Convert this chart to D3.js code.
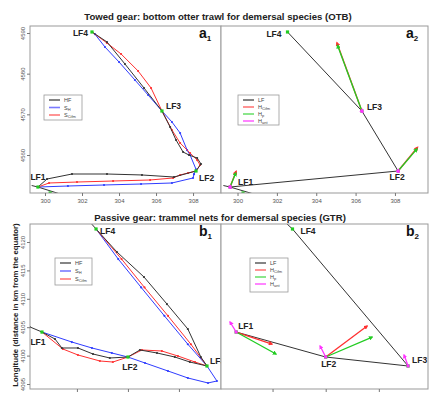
<!DOCTYPE html>
<html>
<head>
<meta charset="utf-8">
<script src="https://cdn.jsdelivr.net/npm/d3@7"></script>
<style>
  body { margin: 0; background: #fff; }
  text { font-family: "Liberation Sans", Arial, sans-serif; }
</style>
</head>
<body>
<svg id="chart" width="430" height="394"></svg>
<script>
// ---- data (km) ----
const lfNames = ['LF1', 'LF2', 'LF3', 'LF4'];

// towed gear (OTB)
const towedLF = [[299.62, 4552.13], [308.16, 4556.07], [306.32, 4570.82], [302.54, 4590.25]];
const towedLF0 = [[300.28, 4550.66]];
const towedTail = [[299.28, 4552.5], [299.62, 4552.13], [300.9, 4550.3]];
const towedHF = [[299.62, 4552.13], [300.11, 4554.10], [301.46, 4555.33], [303.35, 4555.33], [305.24, 4555.09],
  [306.97, 4554.59], [308.16, 4556.07], [308.43, 4557.79], [308.22, 4559.26], [307.78, 4560.00], [307.46, 4560.74],
  [307.08, 4563.69], [306.76, 4566.89], [306.32, 4570.82], [305.35, 4576.48], [304.32, 4582.38], [303.35, 4587.79],
  [302.54, 4590.25]];
const towedSH = [[299.62, 4552.13], [301.24, 4552.38], [303.19, 4552.63], [305.19, 4552.87], [306.86, 4553.12],
  [308.00, 4554.35], [308.05, 4555.3], [308.16, 4556.5], [307.84, 4560.0], [307.68, 4561.20], [307.30, 4565.41],
  [306.86, 4568.12], [306.32, 4570.82], [305.57, 4574.76], [304.86, 4578.44], [304.00, 4582.87], [303.24, 4586.56],
  [302.70, 4589.7]];
const towedSCifm = [[299.62, 4552.13], [300.22, 4553.12], [301.73, 4553.36], [303.68, 4553.61], [305.68, 4553.86],
  [306.92, 4554.35], [307.30, 4555.09], [307.73, 4555.58], [308.16, 4556.07], [308.38, 4557.54], [308.22, 4558.76],
  [307.84, 4560.49], [307.30, 4562.95], [306.86, 4566.15], [306.32, 4570.82], [305.73, 4576.48], [305.03, 4580.66],
  [304.11, 4584.84], [303.35, 4587.54], [302.54, 4590.25]];
// arrows: [fromX, fromY, toX, toY]
const towedHCifm = [[299.62, 4552.13, 299.93, 4556.0], [308.16, 4556.07, 309.15, 4561.9], [306.32, 4570.82, 305.05, 4587.6]];
const towedHp = [[299.62, 4552.13, 299.91, 4555.6], [308.16, 4556.07, 309.12, 4561.5], [306.32, 4570.82, 305.08, 4587.0]];
const towedHant = [[299.62, 4552.13, 299.64, 4552.5], [308.16, 4556.07, 308.18, 4556.4], [306.32, 4570.82, 306.34, 4571.2]];

// passive gear (GTR)
const passiveLF = [[300.63, 4104.15], [304.00, 4099.75], [307.10, 4098.17], [302.75, 4122.29]];
const passiveTrack = [[300.63, 4104.15], [304.00, 4099.75], [307.10, 4098.17], [302.75, 4122.29], [302.47, 4123.5]];
const passiveHF = [[300.16, 4105.04], [300.63, 4104.15], [301.14, 4102.92], [301.41, 4101.34], [302.04, 4101.34],
  [302.63, 4100.28], [303.29, 4099.58], [304.00, 4099.75], [304.47, 4100.99], [305.14, 4100.46], [305.84, 4099.75],
  [306.43, 4098.87], [307.10, 4098.17], [306.86, 4099.75], [306.35, 4104.68], [305.53, 4109.08], [304.63, 4113.84],
  [303.57, 4118.24], [302.75, 4122.29], [302.51, 4123.52]];
const passiveSH = [[300.63, 4104.15], [301.80, 4102.39], [302.59, 4101.34], [303.37, 4100.46], [304.00, 4099.75],
  [304.67, 4098.70], [305.57, 4097.29], [306.35, 4096.06], [307.14, 4095.18], [307.49, 4095.53], [307.10, 4098.17],
  [306.35, 4102.0], [305.43, 4107.0], [304.52, 4112.0], [303.62, 4117.0], [302.75, 4122.29]];
const passiveSCifm = [[300.63, 4104.15], [301.45, 4101.16], [302.04, 4100.11], [302.90, 4099.05], [303.41, 4098.87],
  [304.00, 4099.75], [304.55, 4100.99], [305.33, 4100.81], [305.96, 4099.93], [306.63, 4098.87], [307.10, 4098.17],
  [306.47, 4102.0], [305.57, 4107.0], [304.65, 4112.0], [303.75, 4117.0], [302.75, 4122.29]];
const passiveHCifm = [[300.63, 4104.15, 301.98, 4102.04], [304.00, 4099.75, 305.56, 4105.21]];
const passiveHp = [[300.63, 4104.15, 302.13, 4100.28], [304.00, 4099.75, 305.75, 4103.27]];
const passiveHant = [[300.63, 4104.15, 300.40, 4105.92], [304.00, 4099.75, 303.79, 4101.69], [307.10, 4098.17, 306.95, 4100.11]];

const xTicksA = [300, 302, 304, 306, 308];
const yTicksA = [4560, 4570, 4580, 4590];
const xTicksB = [302, 304, 306];
const yTicksB = [4095, 4100, 4105, 4110, 4115, 4120];

const titles = ['Towed gear: bottom otter trawl for demersal species (OTB)',
  'Passive gear: trammel nets for demersal species (GTR)'];
const yTitle = 'Longitude (distance in km from the equator)';

// ---- colours ----
const col = {black: '#333', blue: '#2f3cff', red: '#ff3030', green: '#22cc22', magenta: '#ff33ff'};
const legCol = {black: '#666', blue: '#7a7aff', red: '#ff7a7a', green: '#6ee06e', magenta: '#ff66ff'};

const svg = d3.select('#chart');
const defs = svg.append('defs');

['red', 'green', 'magenta'].forEach(c => {
  defs.append('marker')
    .attr('id', 'arrow-' + c)
    .attr('viewBox', '0 0 10 10')
    .attr('refX', 7).attr('refY', 5)
    .attr('markerWidth', 3.5).attr('markerHeight', 3.5)
    .attr('orient', 'auto')
    .append('path')
    .attr('d', 'M0,0 L10,5 L0,10 z')
    .attr('fill', col[c]);
});

function drawPanel(cfg) {
  const [x0, y0, x1, y1] = cfg.box;
  const x = d3.scaleLinear().domain(cfg.xd).range([x0, x1]);
  const y = d3.scaleLinear().domain(cfg.yd).range([y1, y0]);
  const g = svg.append('g');

  g.append('rect')
    .attr('x', x0).attr('y', y0).attr('width', x1 - x0).attr('height', y1 - y0)
    .attr('fill', '#fff');

  defs.append('clipPath').attr('id', 'clip-' + cfg.id)
    .append('rect')
    .attr('x', x0).attr('y', y0).attr('width', x1 - x0).attr('height', y1 - y0);

  const plot = g.append('g').attr('clip-path', `url(#clip-${cfg.id})`);
  const line = d3.line().x(d => x(d[0])).y(d => y(d[1]));

  (cfg.paths || []).forEach(p => {
    plot.append('path')
      .attr('d', line(p.data))
      .attr('fill', 'none')
      .attr('stroke', col[p.color])
      .attr('stroke-width', p.width || 1);
    if (p.dots) {
      plot.selectAll(null).data(p.data).enter().append('circle')
        .attr('cx', d => x(d[0])).attr('cy', d => y(d[1]))
        .attr('r', 1.1).attr('fill', col[p.color]);
    }
  });

  plot.selectAll(null).data(cfg.points).enter().append('rect')
    .attr('x', d => x(d[0]) - 1.6).attr('y', d => y(d[1]) - 1.6)
    .attr('width', 3.2).attr('height', 3.2)
    .attr('fill', col.green);

  (cfg.arrows || []).forEach(a => {
    plot.selectAll(null).data(a.data).enter().append('line')
      .attr('x1', d => x(d[0])).attr('y1', d => y(d[1]))
      .attr('x2', d => x(d[2])).attr('y2', d => y(d[3]))
      .attr('stroke', col[a.color])
      .attr('stroke-width', 1.3)
      .attr('marker-end', `url(#arrow-${a.color})`);
    if (a.color === 'magenta') {
      plot.selectAll(null).data(a.data).enter().append('rect')
        .attr('x', d => x(d[0]) - 1.5).attr('y', d => y(d[1]) - 1.5)
        .attr('width', 3).attr('height', 3)
        .attr('fill', col.magenta);
    }
  });

  // LF labels
  g.selectAll(null).data(cfg.lf).enter().append('text')
    .attr('x', (d, i) => x(d[0]) + cfg.lab[i][0])
    .attr('y', (d, i) => y(d[1]) + cfg.lab[i][1])
    .attr('text-anchor', (d, i) => cfg.lab[i][2])
    .attr('font-size', 8.5).attr('font-weight', 'bold').attr('fill', '#222')
    .text((d, i) => lfNames[i]);

  // frame
  g.append('rect')
    .attr('x', x0).attr('y', y0).attr('width', x1 - x0).attr('height', y1 - y0)
    .attr('fill', 'none').attr('stroke', '#999').attr('stroke-width', 1);

  // axes
  const xAxis = d3.axisBottom(x).tickValues(cfg.xt).tickSize(3).tickPadding(3)
    .tickFormat(cfg.xLabels ? d3.format('d') : '');
  const xa = g.append('g')
    .attr('transform', `translate(0,${y1})`)
    .call(xAxis);
  xa.select('.domain').remove();
  xa.selectAll('line').attr('stroke', '#777');
  xa.selectAll('text').attr('font-size', 6).attr('fill', '#555').attr('font-family', null);

  if (cfg.yt) {
    const ya = g.append('g')
      .attr('transform', `translate(${x0},0)`)
      .call(d3.axisLeft(y).tickValues(cfg.yt).tickSize(3).tickFormat(d3.format('d')));
    ya.select('.domain').remove();
    ya.selectAll('line').attr('stroke', '#777');
    ya.selectAll('text')
      .attr('font-size', 6).attr('fill', '#555').attr('font-family', null)
      .attr('transform', 'rotate(-90)')
      .attr('text-anchor', 'middle')
      .attr('x', 0).attr('y', -5).attr('dy', 0);
  }

  // panel tag
  const tag = g.append('text')
    .attr('x', x1 - 22).attr('y', y0 + cfg.tagDy)
    .attr('font-size', 14).attr('font-weight', 'bold').attr('fill', '#111');
  tag.append('tspan').text(cfg.tag[0]);
  tag.append('tspan').attr('font-size', 8).attr('dy', 3).text(cfg.tag[1]);

  // legend
  const lg = cfg.legend;
  g.append('rect')
    .attr('x', lg.x).attr('y', lg.y).attr('width', lg.w).attr('height', lg.h)
    .attr('fill', '#fff').attr('stroke', '#999').attr('stroke-width', 0.8);
  lg.items.forEach((it, i) => {
    const yy = lg.y + 5 + i * lg.step;
    g.append('line')
      .attr('x1', lg.x + 5).attr('x2', lg.x + 16).attr('y1', yy).attr('y2', yy)
      .attr('stroke', legCol[it.color]).attr('stroke-width', 1.6);
    const t = g.append('text')
      .attr('x', lg.x + 20).attr('y', yy + 2)
      .attr('font-size', 5.5).attr('fill', '#444');
    t.append('tspan').text(it.label[0]);
    if (it.label[1]) t.append('tspan').attr('font-size', 4).attr('dy', 1).text(it.label[1]);
  });
}

const legendS = [{color: 'black', label: ['HF']}, {color: 'blue', label: ['S', 'H']}, {color: 'red', label: ['S', 'Cifm']}];
const legendH = [{color: 'black', label: ['LF']}, {color: 'red', label: ['H', 'Cifm']},
  {color: 'green', label: ['H', 'p']}, {color: 'magenta', label: ['H', 'ant']}];

// a1
drawPanel({
  id: 'a1', box: [30, 26, 221, 193], xd: [299.19, 309.51], yd: [4550.66, 4591.72],
  xt: xTicksA, xLabels: true, yt: yTicksA,
  paths: [
    {data: towedTail, color: 'black'},
    {data: towedSH, color: 'blue', dots: true},
    {data: towedSCifm, color: 'red', dots: true},
    {data: towedHF, color: 'black', dots: true}
  ],
  points: towedLF.concat(towedLF0),
  lf: towedLF,
  lab: [[0, -7, 'middle'], [3, 10, 'start'], [4, -2, 'start'], [-4, 4, 'end']],
  tag: ['a', '1'], tagDy: 12,
  legend: {x: 44, y: 95, w: 38, h: 25, step: 7.5, items: legendS}
});

// a2
drawPanel({
  id: 'a2', box: [221, 26, 428, 193], xd: [299.16, 309.68], yd: [4550.66, 4591.72],
  xt: xTicksA, xLabels: true,
  paths: [
    {data: towedTail, color: 'black'},
    {data: towedLF, color: 'black'}
  ],
  points: towedLF.concat(towedLF0),
  arrows: [
    {data: towedHCifm, color: 'red'},
    {data: towedHp, color: 'green'},
    {data: towedHant, color: 'magenta'}
  ],
  lf: towedLF,
  lab: [[8, -2, 'start'], [-1, 9, 'middle'], [5, -1, 'start'], [-6, 5, 'end']],
  tag: ['a', '2'], tagDy: 12,
  legend: {x: 238, y: 95, w: 41, h: 30, step: 7, items: legendH}
});

// b1
drawPanel({
  id: 'b1', box: [30, 224, 221, 389], xd: [300.16, 307.65], yd: [4094.12, 4123.17],
  xt: xTicksB, yt: yTicksB,
  paths: [
    {data: passiveSH, color: 'blue', dots: true},
    {data: passiveSCifm, color: 'red', dots: true},
    {data: passiveHF, color: 'black', dots: true}
  ],
  points: passiveLF,
  lf: passiveLF,
  lab: [[-4, 13, 'middle'], [2, 13, 'middle'], [3, -2, 'start'], [4, 5, 'start']],
  tag: ['b', '1'], tagDy: 12,
  legend: {x: 55, y: 258, w: 37, h: 27, step: 8, items: legendS}
});

// b2
drawPanel({
  id: 'b2', box: [221, 224, 428, 389], xd: [300.06, 307.85], yd: [4094.12, 4123.17],
  xt: xTicksB,
  paths: [
    {data: passiveTrack, color: 'black'}
  ],
  points: passiveLF,
  arrows: [
    {data: passiveHCifm, color: 'red'},
    {data: passiveHp, color: 'green'},
    {data: passiveHant, color: 'magenta'}
  ],
  lf: passiveLF,
  lab: [[2, -3, 'start'], [3, 10, 'middle'], [4, -3, 'start'], [8, 5, 'start']],
  tag: ['b', '2'], tagDy: 12,
  legend: {x: 250, y: 258, w: 38, h: 34, step: 7, items: legendH}
});

// titles
svg.append('text').attr('x', 218).attr('y', 20).attr('text-anchor', 'middle')
  .attr('font-size', 9.6).attr('font-weight', 'bold').attr('fill', '#222').text(titles[0]);
svg.append('text').attr('x', 220).attr('y', 221).attr('text-anchor', 'middle')
  .attr('font-size', 9.6).attr('font-weight', 'bold').attr('fill', '#222').text(titles[1]);
svg.append('text')
  .attr('transform', 'translate(18,305) rotate(-90)')
  .attr('text-anchor', 'middle')
  .attr('font-size', 7.8).attr('font-weight', 'bold').attr('fill', '#222')
  .text(yTitle);
</script>
</body>
</html>
